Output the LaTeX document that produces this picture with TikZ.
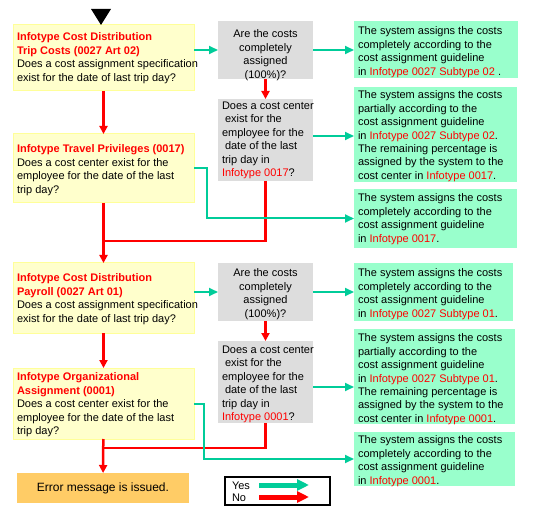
\documentclass[tikz,border=0pt]{standalone}
\usepackage{fontspec}
\setmainfont{Liberation Sans}
\usetikzlibrary{arrows.meta}
\definecolor{yfill}{HTML}{FFFFCC}
\definecolor{yline}{HTML}{FFFF99}
\definecolor{gfill}{HTML}{DDDDDD}
\definecolor{mfill}{HTML}{99FFCC}
\definecolor{ofill}{HTML}{FFCC66}
\definecolor{tealc}{HTML}{00CC99}
\definecolor{redc}{HTML}{FF0000}
\newcommand\redbf[1]{\textcolor{redc}{\bfseries #1}}
\newcommand\rd[1]{\textcolor{redc}{#1}}
\begin{document}
\begin{tikzpicture}[x=1pt,y=-1pt,
  every node/.style={font=\fontsize{11}{13.4}\selectfont, inner sep=0pt, outer sep=0pt},
  ybx/.style={draw=yline, fill=yfill, line width=1pt, minimum width=181pt},
  gbx/.style={fill=gfill, minimum width=95pt},
  mbx/.style={fill=mfill},
  obx/.style={fill=ofill},
  txt/.style={align=left, anchor=north west},
  yesline/.style={draw=tealc, line width=2pt, -{Triangle[length=9pt,width=8pt]}},
  noline/.style={draw=redc, line width=2.5pt, -{Triangle[length=8pt,width=8pt]}},
  noseg/.style={draw=redc, line width=2.5pt},
]
\useasboundingbox (0,0) rectangle (533,513);

% left column boxes
\node[ybx, minimum height=66pt] (A1) at (103.5,58) {};
\node[ybx, minimum height=69pt] (A2) at (103.5,168.5) {};
\node[ybx, minimum height=70pt] (A3) at (103.5,298) {};
\node[ybx, minimum height=71pt] (A4) at (103.5,403.5) {};
\node[obx, minimum width=172pt, minimum height=30pt, font=\fontsize{12}{14}\selectfont] (Err) at (103,488) {Error message is issued.};

% middle column boxes
\node[gbx, minimum height=58pt] (B1) at (265.5,50) {};
\node[gbx, minimum height=82pt] (B2) at (265.5,140) {};
\node[gbx, minimum height=58pt] (B3) at (265.5,292) {};
\node[gbx, minimum height=82pt] (B4) at (265.5,382) {};

% right column boxes
\node[mbx, minimum width=164pt, minimum height=57pt] (C1) at (436,49.5) {};
\node[mbx, minimum width=163pt, minimum height=95pt] (C2) at (435.5,134.5) {};
\node[mbx, minimum width=163pt, minimum height=59pt] (C3) at (435.5,218.5) {};
\node[mbx, minimum width=159pt, minimum height=58pt] (C4) at (433.5,292) {};
\node[mbx, minimum width=161pt, minimum height=95pt] (C5) at (434.5,376.5) {};
\node[mbx, minimum width=161pt, minimum height=54pt] (C6) at (434.5,459) {};

% texts left column
\node[txt] (A1t) at (17,33) {\redbf{Infotype Cost Distribution}\\\redbf{Trip Costs (0027 Art 02)}\\Does a cost assignment specification\\exist for the date of last trip day?};
\node[txt] (A2t) at (17,145) {\redbf{Infotype Travel Privileges (0017)}\\Does a cost center exist for the\\employee for the date of the last\\trip day?};
\node[txt] (A3t) at (17,274) {\redbf{Infotype Cost Distribution}\\\redbf{Payroll (0027 Art 01)}\\Does a cost assignment specification\\exist for the date of last trip day?};
\node[txt] (A4t) at (17,373) {\redbf{Infotype Organizational}\\\redbf{Assignment (0001)}\\Does a cost center exist for the\\employee for the date of the last\\trip day?};

% texts middle column
\node[align=center, anchor=north] (B1t) at (265.5,30) {Are the costs\\completely\\assigned\\(100\%)?};
\node[txt] (B2t) at (222,102) {Does a cost center\\\hspace{3pt}exist for the\\employee for the\\\hspace{3pt}date of the last\\trip day in\\\rd{Infotype 0017}?};
\node[align=center, anchor=north] (B3t) at (265.5,269) {Are the costs\\completely\\assigned\\(100\%)?};
\node[txt] (B4t) at (222,346) {Does a cost center\\\hspace{3pt}exist for the\\employee for the\\\hspace{3pt}date of the last\\trip day in\\\rd{Infotype 0001}?};

% texts right column
\node[txt] (C1t) at (358,27) {The system assigns the costs\\completely according to the\\cost assignment guideline\\in \rd{Infotype 0027 Subtype 02} .};
\node[txt] (C2t) at (358,91) {The system assigns the costs\\partially according to the\\cost assignment guideline\\in \rd{Infotype 0027 Subtype 02}.\\The remaining percentage is\\assigned by the system to the\\cost center in \rd{Infotype 0017}.};
\node[txt] (C3t) at (358,194) {The system assigns the costs\\completely according to the\\cost assignment guideline\\in \rd{Infotype 0017}.};
\node[txt] (C4t) at (358,269) {The system assigns the costs\\completely according to the\\cost assignment guideline\\in \rd{Infotype 0027 Subtype 01}.};
\node[txt] (C5t) at (358,334) {The system assigns the costs\\partially according to the\\cost assignment guideline\\in \rd{Infotype 0027 Subtype 01}.\\The remaining percentage is\\assigned by the system to the\\cost center in \rd{Infotype 0001}.};
\node[txt] (C6t) at (358,436) {The system assigns the costs\\completely according to the\\cost assignment guideline\\in \rd{Infotype 0001}.};

% start marker
\fill (91,9) -- (111,9) -- (101,25) -- cycle;

% junction coordinates
\coordinate (J1) at (103,241);
\coordinate (J2) at (103,448);

% No (red) connectors
\draw[noline] (A1) -- (A2);
\draw[noline] (A2) -- (A3);
\draw[noline] (B1) -- (B2);
\draw[noseg] (B2.south) |- (J1);
\draw[noline] (A3) -- (A4);
\draw[noline] (A4) -- (Err);
\draw[noline] (B3) -- (B4);
\draw[noseg] (B4.south) |- (J2);

% Yes (teal) connectors
\draw[yesline] (A1.east |- B1.west) -- (B1.west);
\draw[yesline] (B1.east) -- (B1.east -| C1.west);
\draw[yesline] ([yshift=4pt]B2.east) -- ([yshift=4pt]B2.east -| C2.west);
\draw[yesline] (A2.east) -- ++(13,0) |- (C3.west);
\draw[yesline] (A3.east |- B3.west) -- (B3.west);
\draw[yesline] (B3.east) -- (B3.east -| C4.west);
\draw[yesline] ([yshift=-5pt]B4.east) -- ([yshift=-5pt]B4.east -| C5.west);
\draw[yesline] (A4.east) -- ++(10,0) |- (C6.west);

% legend
\node[draw, line width=2pt, minimum width=105pt, minimum height=28pt] (Leg) at (277.5,491) {};
\node[anchor=west] (LY) at (232,485.5) {Yes};
\node[anchor=west] (LN) at (232,497.5) {No};
\coordinate (ly1) at (259,485);
\coordinate (ly2) at (309,485);
\coordinate (ln1) at (259,497);
\coordinate (ln2) at (309,497);
\draw[draw=tealc, line width=5pt, -{Triangle[length=12pt,width=11pt]}] (ly1) -- (ly2);
\draw[draw=redc, line width=5pt, -{Triangle[length=12pt,width=11pt]}] (ln1) -- (ln2);
\end{tikzpicture}
\end{document}
